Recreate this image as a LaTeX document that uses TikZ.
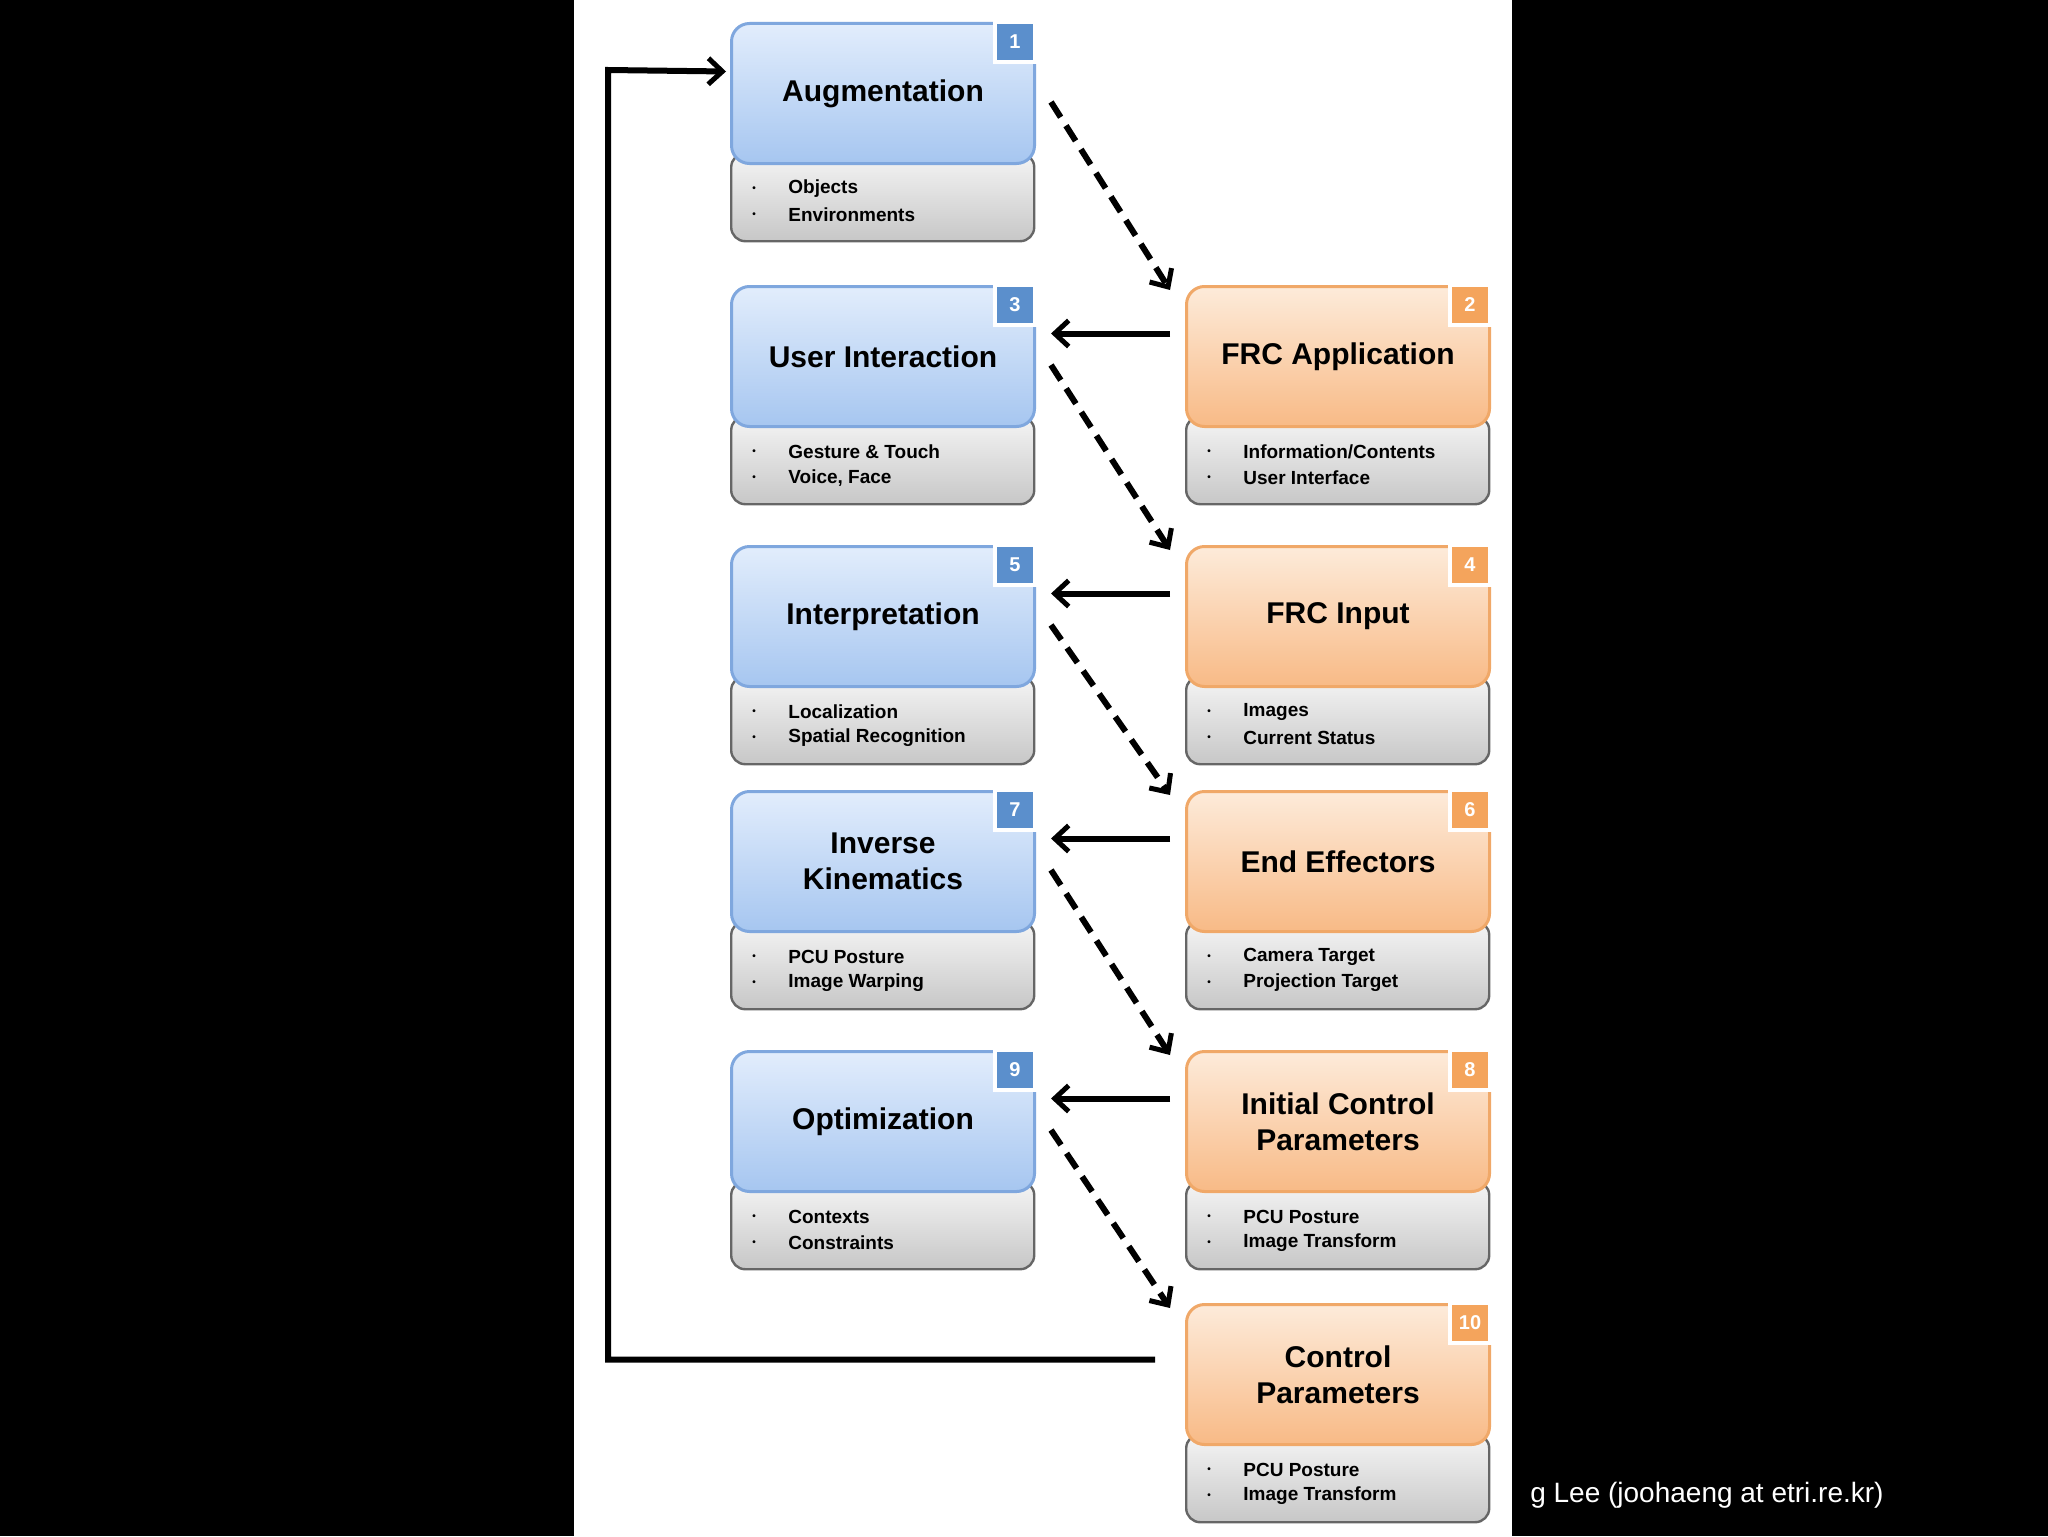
\documentclass[tikz,border=0pt]{standalone}
\usepackage{fontspec}
\setmainfont{Liberation Sans}
\usetikzlibrary{calc,arrows.meta}
\definecolor{bb}{HTML}{7FA7DE}\definecolor{bt}{HTML}{E2EDFC}\definecolor{bbo}{HTML}{A6C6F0}
\definecolor{ob}{HTML}{F0A868}\definecolor{ot}{HTML}{FDEBDA}\definecolor{obo}{HTML}{F8BA86}
\definecolor{bn}{HTML}{5B8FCC}\definecolor{on}{HTML}{F4A45C}
\tikzset{
 blue/.style={draw=bb,line width=1.5pt,top color=bt,bottom color=bbo},
 orange/.style={draw=ob,line width=1.5pt,top color=ot,bottom color=obo},
 bblue/.style={fill=bn}, borange/.style={fill=on},
 tbox/.style={rounded corners=9pt,minimum width=151.5pt,minimum height=70pt,align=center,font=\bfseries\fontsize{15}{18}\selectfont},
 gbox/.style={rounded corners=7pt,minimum width=151.5pt,minimum height=44pt,draw=black!60,line width=1.2pt,top color=black!4,bottom color=black!22},
 bul/.style={anchor=west,font=\bfseries\fontsize{9.5}{11}\selectfont,inner sep=0pt},
 badge/.style={draw=white,line width=2pt,minimum size=20pt,inner sep=0pt,text=white,font=\fontsize{10}{12}\selectfont\bfseries},
 dar/.style={line width=3pt,dash pattern=on 9pt off 5pt,-{Straight Barb[length=7pt,width=13pt,line width=2.5pt]}},
 sar/.style={line width=3pt,-{Straight Barb[length=7pt,width=13pt,line width=2.5pt]}},
}
\newcommand\Blk[8]{%
 \node[gbox,anchor=north west] (#1g) at (#2,#3+130) {};
 \node[tbox,#4,anchor=north west] (#1) at (#2,#3) {#5};
 \node[bul] (#1x) at (#2+22,#3+167) {\tiny\textbullet};
 \node[bul] (#1a) at (#2+58,#3+167) {#6};
 \node[bul] (#1y) at (#2+22,#3+193) {\tiny\textbullet};
 \node[bul] (#1b) at (#2+58,#3+193) {#7};
 \node[badge,b#4] (#1n) at (#2+285,#3+20) {#8};
}
\begin{document}
\begin{tikzpicture}[x=0.5pt,y=-0.5pt]
\fill[black] (0,0) rectangle (2048,1536);
\fill[white] (574,0) rectangle (1512,1536);
\Blk{aug}{730}{22}{blue}{Augmentation}{Objects}{Environments}{1}
\Blk{ui}{730}{285}{blue}{User Interaction}{Gesture \& Touch}{Voice, Face}{3}
\Blk{interp}{730}{545}{blue}{Interpretation}{Localization}{Spatial Recognition}{5}
\Blk{ik}{730}{790}{blue}{Inverse\\Kinematics}{PCU Posture}{Image Warping}{7}
\Blk{opt}{730}{1050}{blue}{Optimization}{Contexts}{Constraints}{9}
\Blk{app}{1185}{285}{orange}{FRC Application}{Information/Contents}{User Interface}{2}
\Blk{inp}{1185}{545}{orange}{FRC Input}{Images}{Current Status}{4}
\Blk{ee}{1185}{790}{orange}{End Effectors}{Camera Target}{Projection Target}{6}
\Blk{icp}{1185}{1050}{orange}{Initial Control\\Parameters}{PCU Posture}{Image Transform}{8}
\Blk{cp}{1185}{1303}{orange}{Control\\Parameters}{PCU Posture}{Image Transform}{10}
\foreach \a/\b in {aug/app,ui/inp,interp/ee,ik/icp,opt/cp}
 \draw[dar] ($(\a.north east)+(15,80)$) -- ($(\b.north west)+(-15,5)$);
\foreach \a/\b in {app/ui,inp/interp,ee/ik,icp/opt}
 \draw[sar] ($(\a.west)+(-15,-23)$) -- ($(\b.east)+(15,-23)$);
\coordinate (fb) at ($(cp.west)+(-30,-15)$);
\coordinate (fe) at ($(aug.west)+(-4,-22)$);
\draw[sar,line join=miter] (fb) -| (608,70) -- (fe);
\node[anchor=east,text=white,font=\fontsize{14}{16}\selectfont,inner sep=0pt] (credit) at (1884,1495) {g Lee (joohaeng at etri.re.kr)};
\end{tikzpicture}
\end{document}
